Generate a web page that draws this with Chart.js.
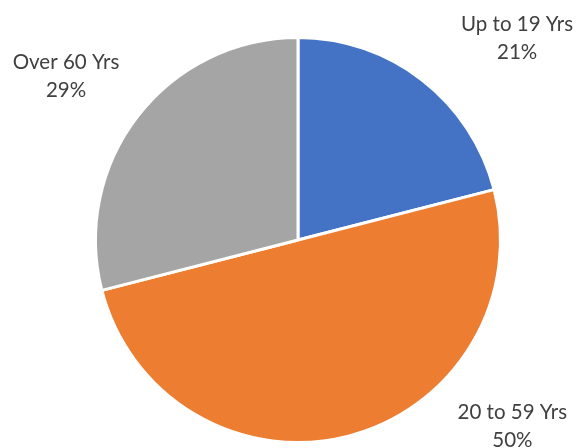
<!DOCTYPE html>
<html>
<head>
<meta charset="utf-8">
<script src="https://cdn.jsdelivr.net/npm/chart.js@4"></script>
<style>
  html, body { margin: 0; padding: 0; background: #fff; }
  #wrap { width: 581px; height: 448px; }
</style>
</head>
<body>
<div id="wrap"><canvas id="pieChart" width="581" height="448"></canvas></div>
<script>
const ageGroups = ['Up to 19 Yrs', '20 to 59 Yrs', 'Over 60 Yrs'];
const shares = [21, 50, 29];
const sliceColors = ['#4472C4', '#ED7D31', '#A5A5A5'];
// label offset from the outer edge of each slice, at its middle angle
const labelOffsets = [[95, -42], [164, -10], [-72, -39]];

const outsideLabels = {
	id: 'outsideLabels',
	afterDatasetsDraw(chart) {
		const ctx = chart.ctx;
		const meta = chart.getDatasetMeta(0);
		ctx.save();
		ctx.font = '20.5px Lato, "Open Sans", sans-serif';
		ctx.fillStyle = '#404040';
		ctx.textAlign = 'center';
		ctx.textBaseline = 'middle';
		meta.data.forEach((arc, i) => {
			const mid = (arc.startAngle + arc.endAngle) / 2;
			const x = arc.x + Math.cos(mid) * arc.outerRadius + labelOffsets[i][0];
			const y = arc.y + Math.sin(mid) * arc.outerRadius + labelOffsets[i][1];
			ctx.fillText(ageGroups[i], x, y - 14);
			ctx.fillText(shares[i] + '%', x, y + 14);
		});
		ctx.restore();
	}
};

new Chart('pieChart', {
	type: 'pie',
	data: {
		labels: ageGroups,
		datasets: [{
			data: shares,
			backgroundColor: sliceColors,
			borderColor: '#ffffff',
			borderWidth: 3
		}]
	},
	options: {
		responsive: false,
		animation: false,
		layout: { padding: { left: 15, right: 0, top: 36, bottom: 4 } },
		plugins: {
			legend: { display: false },
			tooltip: { enabled: false }
		}
	},
	plugins: [outsideLabels]
});
</script>
</body>
</html>
